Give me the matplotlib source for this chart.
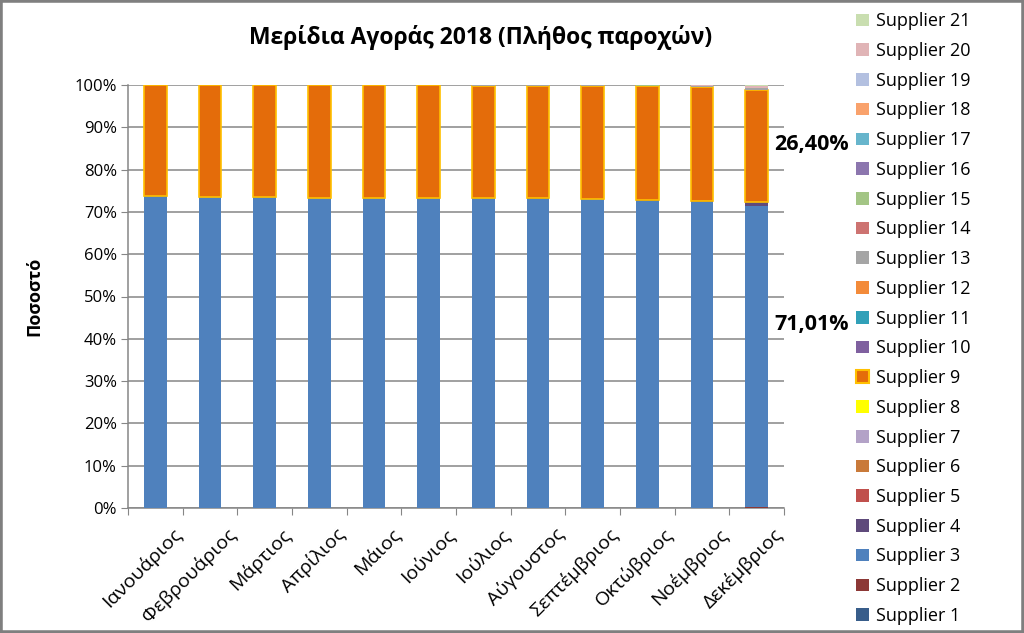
import matplotlib
matplotlib.use("Agg")
import matplotlib.pyplot as plt
from matplotlib.patches import Rectangle, Patch
import numpy as np

plt.rcParams['font.family'] = ['Open Sans', 'DejaVu Sans']

months = ['Ιανουάριος', 'Φεβρουάριος', 'Μάρτιος', 'Απρίλιος', 'Μάιος', 'Ιούνιος',
          'Ιούλιος', 'Αύγουστος', 'Σεπτέμβριος', 'Οκτώβριος', 'Νοέμβριος', 'Δεκέμβριος']
suppliers = ['Supplier %d' % i for i in range(1, 22)]

# market share per month (%), only suppliers that are visible
s2 = [0, 0, 0, 0, 0, 0, 0, 0, 0, 0, 0, 0.30]
s3 = [73.8, 73.6, 73.5, 73.4, 73.4, 73.3, 73.2, 73.1, 73.0, 72.6, 72.3, 71.01]
s4 = [0, 0, 0, 0, 0, 0, 0.05, 0.1, 0.1, 0.2, 0.3, 1.1]
s9 = [26.1, 26.3, 26.4, 26.5, 26.5, 26.6, 26.6, 26.6, 26.7, 26.87, 26.84, 26.40]
s13 = [0, 0, 0, 0, 0, 0, 0.05, 0.1, 0.1, 0.15, 0.25, 0.45]
s15 = [0.1, 0.1, 0.1, 0.1, 0.1, 0.1, 0.1, 0.1, 0.1, 0.1, 0.1, 0.1]
s20 = [0, 0, 0, 0, 0, 0, 0, 0, 0, 0.08, 0.21, 0.45]
s21 = [0, 0, 0, 0, 0, 0, 0, 0, 0, 0, 0, 0.19]

colors = ['#385D8A', '#8C3836', '#4F81BD', '#5F4A7B', '#C0504D', '#C97A3A', '#B3A2C7',
          '#FFFF00', '#E46C0A', '#7F609F', '#31A0B8', '#F38B3A', '#A5A5A5', '#CD7371',
          '#A3C585', '#8C76AE', '#67B5CC', '#F9A26C', '#B3C0E0', '#E0B4B6', '#C9DEB0']

zero = [0] * 12
shares = [zero, s2, s3, s4, zero, zero, zero, zero, s9, zero, zero, zero,
          s13, zero, s15, zero, zero, zero, zero, s20, s21]

fig = plt.figure(figsize=(10.24, 6.33), dpi=100)
ax = fig.add_axes([128 / 1024, 1 - 508 / 633, 656 / 1024, 423 / 633])

x = np.arange(len(months))
bottom = np.zeros(len(months))
for i, vals in enumerate(shares):
    vals = np.array(vals, dtype=float)
    if i == 8:
        ax.bar(x, vals, 0.41, bottom=bottom, color=colors[i], edgecolor='#FFC000',
               linewidth=1.2, zorder=3)
    else:
        ax.bar(x, vals, 0.41, bottom=bottom, color=colors[i], linewidth=0, zorder=3)
    bottom += vals

ax.set_xlim(-0.5, len(months) - 0.5)
ax.set_ylim(0, 100)
ax.set_yticks(np.arange(0, 101, 10))
ax.set_yticklabels(['%d%%' % v for v in range(0, 101, 10)], fontsize=12)
ax.yaxis.grid(True, color='#868686', linewidth=1.1, zorder=0)
ax.set_xticks(np.arange(-0.5, len(months), 1))
ax.set_xticklabels([])
ax.set_xticks(x + 0.3, minor=True)
ax.set_xticklabels(months, minor=True, rotation=45, ha='right', va='top',
                   rotation_mode='anchor', fontsize=14)
ax.tick_params(axis='x', which='minor', length=0, pad=12)
ax.tick_params(axis='x', which='major', length=5, color='#868686', direction='out')
ax.tick_params(axis='y', length=5, color='#868686', pad=3)
for side in ['top', 'right']:
    ax.spines[side].set_visible(False)
for side in ['left', 'bottom']:
    ax.spines[side].set_color('#868686')
    ax.spines[side].set_linewidth(1.1)

ax.set_ylabel('Ποσοστό', fontsize=13, fontweight='bold', labelpad=22)

# labels for December
dec_s3 = s3[-1]
dec_s9 = s9[-1]
ax.text(12.01, 86.0, ('%.2f%%' % dec_s9).replace('.', ','), fontsize=15.5,
        fontweight='bold', ha='center', va='center', clip_on=False)
ax.text(12.01, 43.4, ('%.2f%%' % dec_s3).replace('.', ','), fontsize=15.5,
        fontweight='bold', ha='center', va='center', clip_on=False)

fig.text(0.469, 0.94, 'Μερίδια Αγοράς 2018 (Πλήθος παροχών)', fontsize=16.5,
         fontweight='bold', ha='center', va='center')

handles = []
for i in range(len(suppliers) - 1, -1, -1):
    if i == 8:
        handles.append(Patch(facecolor=colors[i], edgecolor='#FFC000', linewidth=1.5,
                             label=suppliers[i]))
    else:
        handles.append(Patch(facecolor=colors[i], label=suppliers[i]))
fig.legend(handles=handles, loc='upper left', bbox_to_anchor=(849 / 1024, 1 - 5 / 633),
           frameon=False, fontsize=13, handlelength=0.7, handleheight=0.7,
           handletextpad=0.4, labelspacing=0.65, borderaxespad=0)

fig.patches.append(Rectangle((0, 0), 1, 1, transform=fig.transFigure, fill=False,
                             edgecolor='#7F7F7F', linewidth=4))

fig.savefig('out.png', dpi=100)
